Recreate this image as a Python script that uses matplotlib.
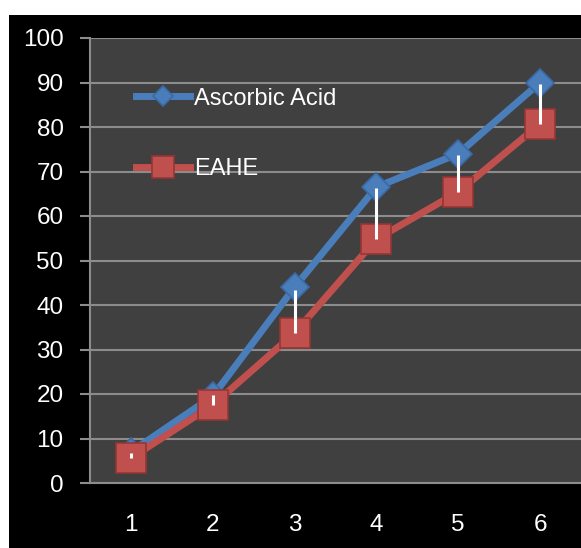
import matplotlib
matplotlib.use("Agg")
import matplotlib.pyplot as plt
from matplotlib.patches import Rectangle

plt.rcParams["font.family"] = ["Liberation Sans", "DejaVu Sans"]

# data
days = [1, 2, 3, 4, 5, 6]
ascorbic = [7, 19.5, 44, 66.5, 74, 90]
eahe = [5.6, 17.5, 33.7, 54.8, 65.4, 80.7]
eahe_err = [1.2, 2.3, 9.7, 11.5, 8.3, 9.0]
yticks = [0, 10, 20, 30, 40, 50, 60, 70, 80, 90, 100]

blue = "#4a7ebb"
red = "#c0504d"

fig = plt.figure(figsize=(5.81, 5.48), dpi=100, facecolor="white")
# black chart background, white strip at top and left
fig.add_artist(Rectangle((9 / 581, 0), 1, 1 - 15 / 548, transform=fig.transFigure,
                         facecolor="black", edgecolor="none", zorder=-10))

ax = fig.add_axes([90 / 581, 1 - 483 / 548, 1 - 90 / 581, 445 / 548])
ax.set_zorder(1)
ax.set_facecolor("#404040")

ax.plot(days, ascorbic, color=blue, lw=5, marker="D", ms=14,
        mfc=blue, mec="#3a6aa6", mew=1.2, label="Ascorbic Acid", zorder=3)
ax.plot(days, eahe, color=red, lw=5, marker="s", ms=21,
        mfc=red, mec="#943634", mew=1.2, label="EAHE", zorder=4)
ax.errorbar(days, eahe, yerr=[[0] * len(days), eahe_err], fmt="none",
            ecolor="white", elinewidth=2.2, capsize=0, zorder=6)

ax.set_xlim(0.5, 6.5)
ax.set_ylim(0, 100)
ax.set_yticks(yticks)
ax.set_xticks(days)
ax.yaxis.grid(True, color="#8c8c8c", lw=1.5)
ax.set_axisbelow(True)

for s in ["top", "right"]:
    ax.spines[s].set_visible(False)
for s in ["left", "bottom"]:
    ax.spines[s].set_color("#8c8c8c")
    ax.spines[s].set_linewidth(1.5)

ax.tick_params(axis="y", colors="white", labelsize=17.5, length=7, width=1.5,
               color="#8c8c8c", pad=12)
ax.tick_params(axis="x", colors="white", labelsize=17.5, length=0, pad=22)

leg = ax.legend(loc="upper left", bbox_to_anchor=(0.07, 0.915), frameon=False,
                fontsize=17, labelspacing=2.05, handlelength=2.3,
                handletextpad=0.15, borderpad=0, markerscale=0.75)
for t in leg.get_texts():
    t.set_color("white")

fig.savefig("out.png", dpi=100, facecolor=fig.get_facecolor())
